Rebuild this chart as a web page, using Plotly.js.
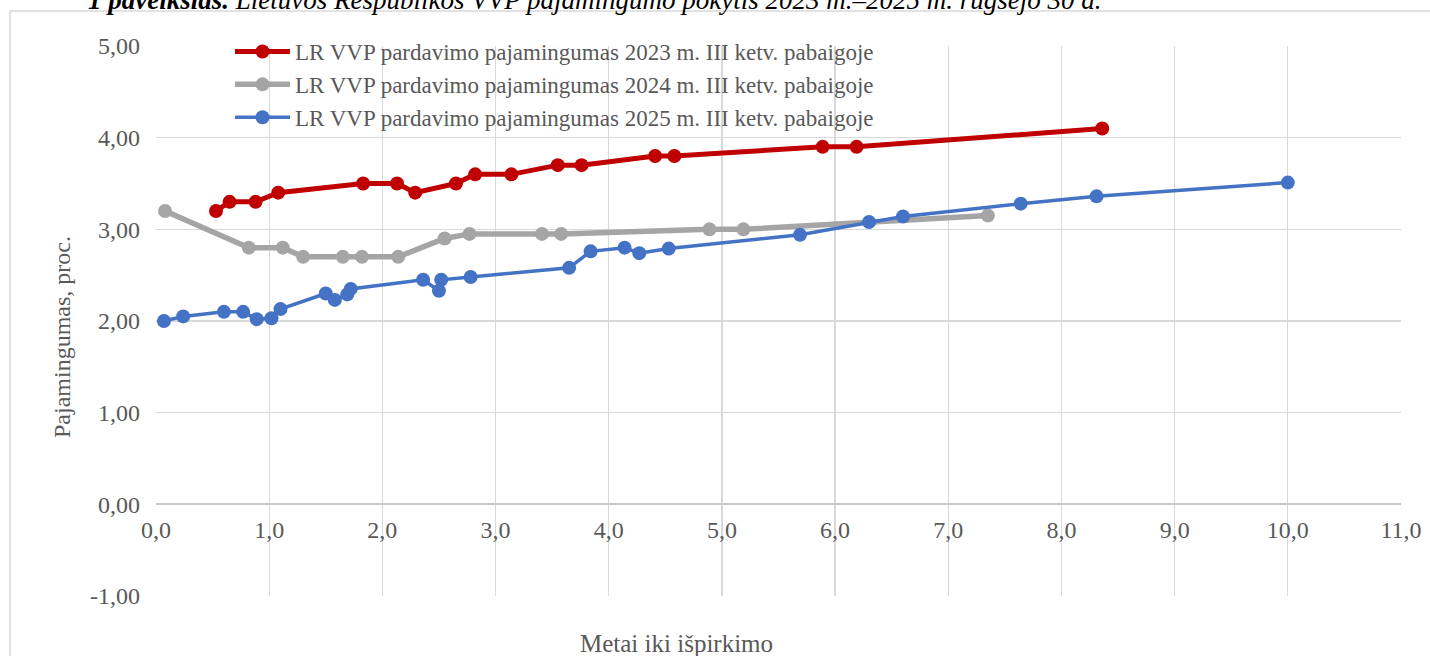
<!DOCTYPE html>
<html>
<head>
<meta charset="utf-8">
<script src="https://cdn.plot.ly/plotly-3.0.1.min.js"></script>
<style>html,body{margin:0;padding:0;background:#fff;overflow:hidden;}#chart{width:1430px;height:656px;}</style>
</head>
<body>
<div id="chart"></div>
<script>
// Series names
const seriesNames = [
  "LR VVP pardavimo pajamingumas 2023 m. III ketv. pabaigoje",
  "LR VVP pardavimo pajamingumas 2024 m. III ketv. pabaigoje",
  "LR VVP pardavimo pajamingumas 2025 m. III ketv. pabaigoje"
];
// 2023
const x2023 = [0.53, 0.65, 0.88, 1.08, 1.83, 2.13, 2.29, 2.65, 2.82, 3.14, 3.55, 3.76, 4.41, 4.58, 5.89, 6.19, 8.36];
const y2023 = [3.20, 3.30, 3.30, 3.40, 3.50, 3.50, 3.40, 3.50, 3.60, 3.60, 3.70, 3.70, 3.80, 3.80, 3.90, 3.90, 4.10];
// 2024
const x2024 = [0.08, 0.82, 1.12, 1.30, 1.65, 1.82, 2.14, 2.55, 2.77, 3.41, 3.58, 4.89, 5.19, 7.35];
const y2024 = [3.20, 2.80, 2.80, 2.70, 2.70, 2.70, 2.70, 2.90, 2.95, 2.95, 2.95, 3.00, 3.00, 3.15];
// 2025
const x2025 = [0.07, 0.24, 0.60, 0.77, 0.89, 1.02, 1.10, 1.50, 1.58, 1.69, 1.72, 2.36, 2.50, 2.52, 2.78, 3.65, 3.84, 4.14, 4.27, 4.53, 5.69, 6.30, 6.60, 7.64, 8.31, 10.00];
const y2025 = [2.00, 2.05, 2.10, 2.10, 2.02, 2.03, 2.13, 2.30, 2.23, 2.29, 2.35, 2.45, 2.33, 2.45, 2.48, 2.58, 2.76, 2.80, 2.74, 2.79, 2.94, 3.08, 3.14, 3.28, 3.36, 3.51];
// Tick labels
const xTickVals = [0,1,2,3,4,5,6,7,8,9,10,11];
const xTickLabels = ["0,0","1,0","2,0","3,0","4,0","5,0","6,0","7,0","8,0","9,0","10,0","11,0"];
const yTickVals = [-1,0,1,2,3,4,5];
const yTickLabels = ["-1,00","0,00","1,00","2,00","3,00","4,00","5,00"];
const titleBold = "1 paveikslas.";
const titleRest = " Lietuvos Respublikos VVP pajamingumo pokytis 2023 m.–2025 m. rugsėjo 30 d.";
const xTitle = "Metai iki išpirkimo";
const yTitle = "Pajamingumas, proc.";

const FONT = "'Liberation Serif', 'Times New Roman', serif";
const colors = ["#C00000", "#A5A5A5", "#4472C4"];
const widths = [5, 5.5, 3.5];

const xs = [x2023, x2024, x2025];
const ys = [y2023, y2024, y2025];
const traces = xs.map((x, i) => ({
  x: x, y: ys[i], type: "scatter", mode: "lines+markers",
  name: seriesNames[i], legendgroup: "g" + i,
  line: {color: colors[i], width: widths[i]},
  marker: {color: colors[i], size: 14},
  hoverinfo: "x+y"
}));

const L = 156, R = 1401, T = 46, B = 596;
const W = R - L, H = B - T;
const px = v => (v - L) / W;
const py = v => (B - v) / H;

const layout = {
  width: 1430, height: 656,
  margin: {l: L, r: 1430 - R, t: T, b: 656 - B, pad: 0},
  paper_bgcolor: "#fff", plot_bgcolor: "#fff",
  showlegend: true,
  legend: {
    x: px(230), y: py(30), xanchor: "left", yanchor: "top",
    bgcolor: "rgba(0,0,0,0)", font: {family: FONT, size: 23, color: "#595959"},
    traceorder: "grouped", tracegroupgap: 0, itemwidth: 55
  },
  xaxis: {
    range: [0, 11], tickvals: xTickVals, ticktext: xTickLabels,
    showgrid: true, gridcolor: "#d9d9d9", gridwidth: 1.3,
    zeroline: false, showline: false, ticks: "",
    anchor: "free", position: 1/6,
    ticklabelstandoff: 9,
    tickfont: {family: FONT, size: 24, color: "#595959"},
    fixedrange: true
  },
  yaxis: {
    range: [-1, 5], tickvals: yTickVals, ticktext: yTickLabels,
    showgrid: true, gridcolor: "#d9d9d9", gridwidth: 1.3,
    zeroline: true, zerolinecolor: "#c8c8c8", zerolinewidth: 2,
    showline: false, ticks: "",
    ticklabelstandoff: 15,
    tickfont: {family: FONT, size: 24, color: "#595959"},
    fixedrange: true
  },
  shapes: [
    {type: "line", xref: "paper", yref: "paper",
     x0: px(10), x1: px(1430), y0: py(11), y1: py(11),
     line: {color: "#d9d9d9", width: 1.5}, layer: "below"},
    {type: "line", xref: "paper", yref: "paper",
     x0: px(10), x1: px(10), y0: py(11), y1: py(656),
     line: {color: "#d9d9d9", width: 1.5}, layer: "below"}
  ],
  annotations: [
    {text: "<b><i>" + titleBold + "</i></b><i>" + titleRest + "</i>",
     xref: "paper", yref: "paper", x: px(86), y: py(0), xanchor: "left", yanchor: "middle",
     showarrow: false, font: {family: FONT, size: 27, color: "#000"}},
    {text: yTitle, xref: "paper", yref: "paper", x: px(62), y: py(337),
     xanchor: "center", yanchor: "middle", textangle: -90, showarrow: false,
     font: {family: FONT, size: 24, color: "#595959"}},
    {text: xTitle, xref: "paper", yref: "paper", x: px(676), y: py(643),
     xanchor: "center", yanchor: "middle", showarrow: false,
     font: {family: FONT, size: 25, color: "#595959"}}
  ]
};

Plotly.newPlot("chart", traces, layout, {displayModeBar: false, staticPlot: true});
</script>
</body>
</html>
